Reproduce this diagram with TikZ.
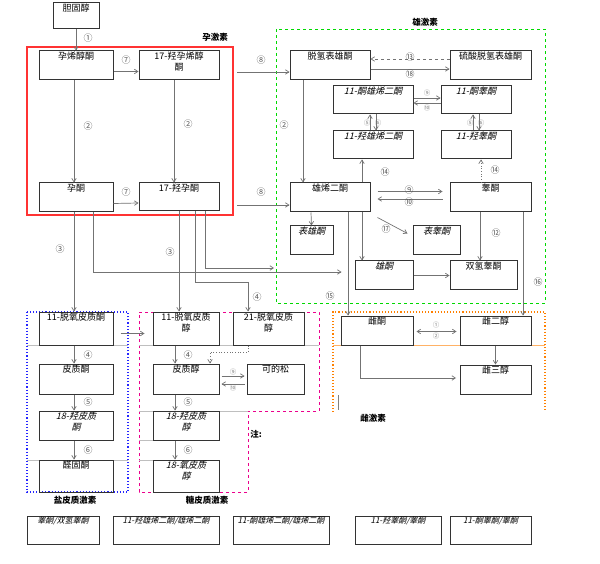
\documentclass[tikz,border=0pt]{standalone}
\usepackage{fontspec}
\setmainfont{Noto Sans CJK SC}[AutoFakeSlant=0.25]
\usetikzlibrary{arrows.meta}
\begin{document}
\begin{tikzpicture}[x=1pt,y=-1pt,
  box/.style={draw=black!80,line width=1pt,inner sep=0pt},
  lab/.style={font=\fontsize{9}{10.5}\selectfont,align=center},
  arr/.style={draw=black!55,line width=0.7pt,-{Straight Barb[length=3.5pt,width=4.5pt]}},
  num/.style={font=\fontsize{9}{9}\selectfont,text=black!65,inner sep=0pt},
  snum/.style={font=\fontsize{6.5}{6.5}\selectfont,text=black!50,inner sep=0pt},
  ttl/.style={font=\bfseries\fontsize{8.5}{8.5}\selectfont,inner sep=0pt}]
\useasboundingbox (0,0) rectangle (600,564);
\fill[white] (0,0) rectangle (600,564);
\newcommand\bx[6]{\node[box,minimum width={(#4-#2)*1pt},minimum height={(#5-#3)*1pt},
  label={[lab,anchor=north,inner sep=1.5pt]north:#6}] (#1) at ({(#2+#4)/2},{(#3+#5)/2}) {};}
\newcommand\sm{\fontsize{8}{9}\selectfont\itshape}
% frames
\node[draw=red!80,line width=1.1pt,minimum width=206pt,minimum height=168pt,inner sep=0pt] (red) at (130,131) {};
\draw[green!85!black,dashed,line width=0.8pt] (276,29) rectangle (545,303);
\draw[blue!85,dotted,line width=1.1pt] (27,312) rectangle (128,492);
\draw[magenta,dashed,line width=0.8pt] (139,312) -- (319,312) -- (319,411) -- (248,411) -- (248,492) -- (139,492) -- cycle;
\draw[orange,dotted,line width=1.1pt] (333,412) -- (333,312) -- (545,312) -- (545,412);
\draw[orange!60,line width=0.6pt] (333,345) -- (545,345);
\draw[black!25,line width=0.5pt] (27,345) -- (128,345) (27,460) -- (128,460)
  (139,345) -- (319,345) (139,411) -- (248,411) (139,440) -- (219,440) (139,460) -- (219,460);
\draw[black!50,line width=0.6pt] (338,395) -- (338,410);
% titles
\node[ttl] at (215,37) {孕激素};
\node[ttl] at (425,22) {雄激素};
\node[ttl] at (373,418) {雌激素};
\node[ttl] at (75,500) {盐皮质激素};
\node[ttl] at (207,500) {糖皮质激素};
\node[ttl] at (256,434) {注:};
% boxes
\bx{chol}{53}{3}{99}{29}{胆固醇}
\bx{preg}{39}{51}{113}{80}{孕烯醇酮}
\bx{ohpreg}{139}{51}{219}{80}{17-羟孕烯醇\\酮}
\bx{prog}{39}{183}{113}{212}{孕酮}
\bx{ohprog}{139}{183}{219}{211}{17-羟孕酮}
\bx{dhea}{290}{51}{370}{80}{脱氢表雄酮}
\bx{dheas}{450}{51}{531}{80}{硫酸脱氢表雄酮}
\bx{kad}{333}{86}{413}{114}{\itshape 11-酮雄烯二酮}
\bx{kt}{441}{86}{511}{114}{\itshape 11-酮睾酮}
\bx{had}{333}{131}{413}{159}{\itshape 11-羟雄烯二酮}
\bx{ht}{441}{131}{511}{159}{\itshape 11-羟睾酮}
\bx{ad}{290}{183}{370}{212}{雄烯二酮}
\bx{t}{450}{183}{531}{212}{睾酮}
\bx{epia}{290}{226}{333}{255}{\itshape 表雄酮}
\bx{epit}{413}{226}{460}{255}{\itshape 表睾酮}
\bx{an}{355}{261}{413}{290}{\itshape 雄酮}
\bx{dht}{450}{261}{517}{290}{双氢睾酮}
\bx{e1}{341}{316}{413}{345}{雌酮}
\bx{e2}{460}{316}{531}{345}{雌二醇}
\bx{e3}{460}{365}{531}{394}{雌三醇}
\bx{doc}{39}{312}{113}{345}{11-脱氧皮质酮}
\bx{b}{39}{364}{113}{394}{皮质酮}
\bx{ohb}{39}{411}{113}{440}{\itshape 18-羟皮质\\\itshape 酮}
\bx{aldo}{39}{460}{113}{492}{醛固酮}
\bx{s}{153}{312}{219}{345}{11-脱氧皮质\\醇}
\bx{dof}{233}{312}{304}{345}{21-脱氧皮质\\醇}
\bx{f}{153}{364}{219}{394}{皮质醇}
\bx{cort}{247}{364}{304}{394}{可的松}
\bx{ohf}{153}{411}{219}{440}{\itshape 18-羟皮质\\\itshape 醇}
\bx{oxof}{153}{460}{219}{492}{\itshape 18-氧皮质\\\itshape 醇}
\bx{r1}{27}{516}{99}{544}{\sm 睾酮/双氢睾酮}
\bx{r2}{113}{516}{219}{544}{\sm 11-羟雄烯二酮/雄烯二酮}
\bx{r3}{233}{516}{329}{544}{\sm 11-酮雄烯二酮/雄烯二酮}
\bx{r4}{355}{516}{441}{544}{\sm 11-羟睾酮/睾酮}
\bx{r5}{450}{516}{531}{544}{\sm 11-酮睾酮/睾酮}
% pregnane arrows
\draw[arr] (chol) -- (preg); \node[num] at (88,38) {①};
\draw[arr] ([yshift=-6pt]preg.east) -- ([yshift=-6pt]ohpreg.west); \node[num] at (126,60) {⑦};
\draw[arr] ([yshift=-6pt]prog.east) -- ([yshift=-6pt]ohprog.west); \node[num] at (126,192) {⑦};
\draw[arr] ([xshift=-2pt]preg.south) -- ([xshift=-2pt]prog.north); \node[num] at (88,126) {②};
\draw[arr] ([xshift=-5pt]ohpreg.south) -- ([xshift=-5pt]ohprog.north); \node[num] at (188,124) {②};
\coordinate (r8a) at (237,72); \coordinate (r8b) at (237,205);
\draw[arr] (r8a) -- (r8a -| dhea.west); \node[num] at (261,60) {⑧};
\draw[arr] (r8b) -- (r8b -| ad.west); \node[num] at (261,192) {⑧};
% androgen arrows
\draw[arr] ([xshift=-27pt]dhea.south) -- ([xshift=-27pt]ad.north); \node[num] at (284,125) {②};
\draw[arr,dashed] ([yshift=6.5pt]dheas.west) -- ([yshift=6.5pt]dhea.east); \node[num] at (410,57) {⑬};
\draw[arr] ([yshift=-3.5pt]dhea.east) -- ([yshift=-3.5pt]dheas.west); \node[num] at (410,74) {⑱};
\draw[arr] ([yshift=2pt]kad.east) -- ([yshift=2pt]kt.west); \node[snum] at (427,93) {⑨};
\draw[arr] ([yshift=-3pt]kt.west) -- ([yshift=-3pt]kad.east); \node[snum] at (427,108) {⑩};
\draw[arr] ([xshift=-3pt]had.north) -- ([xshift=-3pt]kad.south);
\draw[arr] ([xshift=3pt]kad.south) -- ([xshift=3pt]had.north);
\node[snum] at (367,123) {⑤}; \node[snum] at (378,123) {⑥};
\draw[arr] ([xshift=-3pt]ht.north) -- ([xshift=-3pt]kt.south);
\draw[arr] ([xshift=3pt]kt.south) -- ([xshift=3pt]ht.north);
\node[snum] at (470,123) {⑤}; \node[snum] at (481,123) {⑥};
\draw[arr] ([xshift=32pt]ad.north) -- ([xshift=-11pt]had.south); \node[num] at (385,172) {⑭};
\draw[arr,dotted] ([xshift=-9.5pt]t.north) -- ([xshift=5pt]ht.south); \node[num] at (495,170) {⑭};
\draw[arr] ([xshift=7pt,yshift=6pt]ad.east) -- ([xshift=-7pt,yshift=6pt]t.west); \node[num] at (409,190) {⑨};
\draw[arr] ([xshift=-7pt,yshift=-1.5pt]t.west) -- ([xshift=7pt,yshift=-1.5pt]ad.east); \node[num] at (409,202) {⑩};
\draw[arr] ([xshift=-19pt]ad.south) -- (epia.north); 
\draw[arr] ([xshift=7pt,yshift=-5pt]ad.south east) -- ([xshift=-5pt,yshift=-8pt]epit.north west); \node[num] at (386,229) {⑰};
\draw[arr] ([xshift=32pt]ad.south) -- ([xshift=-22pt]an.north);
\draw[arr] (an) -- (dht);
\draw[arr] ([xshift=-10.5pt]t.south) -- ([xshift=-3.5pt]dht.north); \node[num] at (496,233) {⑫};
\draw[arr] ([xshift=18pt]ad.south) -- ([xshift=-29pt]e1.north);
\draw[arr] ([xshift=32.5pt]t.south) -- ([xshift=27.5pt]e2.north);
\node[num] at (330,296) {⑮}; \node[num] at (538,282) {⑯};
% long lines from progesterones
\draw[arr] ([xshift=-2pt]prog.south) -- ([xshift=-2pt]doc.north); \node[num] at (60,249) {③};
\coordinate (p93) at (93,272);
\draw[arr] ([xshift=17pt]prog.south) |- ([xshift=-13pt]an.west |- p93);
\draw[arr] ([xshift=0pt]ohprog.south) -- ([xshift=-7pt]s.north); \node[num] at (170,252) {③};
\coordinate (q282) at (248,282);
\draw[arr] ([xshift=16pt]ohprog.south) |- (q282) -- ([xshift=-20.5pt]dof.north); \node[num] at (257,297) {④};
\coordinate (q268) at (274,268);
\draw[arr] ([xshift=26pt]ohprog.south) |- (q268);
% corticoids
\draw[arr] ([yshift=-5pt,xshift=7pt]doc.east) -- ([yshift=-5pt,xshift=-8pt]s.west);
\draw[arr] ([xshift=-2pt]doc.south) -- ([xshift=-2pt]b.north); \node[num] at (88,355) {④};
\draw[arr] ([xshift=-2pt]b.south) -- ([xshift=-2pt]ohb.north); \node[num] at (88,402) {⑤};
\draw[arr] ([xshift=-2pt]ohb.south) -- ([xshift=-2pt]aldo.north); \node[num] at (88,450) {⑥};
\draw[arr] ([xshift=-11pt]s.south) -- ([xshift=-11pt]f.north); \node[num] at (188,355) {④};
\draw[arr] ([xshift=-11pt]f.south) -- ([xshift=-11pt]ohf.north); \node[num] at (188,402) {⑤};
\draw[arr] ([xshift=-11pt]ohf.south) -- ([xshift=-11pt]oxof.north); \node[num] at (188,450) {⑥};
\coordinate (d352) at (248,352);
\draw[arr,dotted] ([xshift=-20.5pt]dof.south) |- ([xshift=24pt]f.north |- d352) -- ([xshift=24pt]f.north);
\draw[arr] ([xshift=2pt,yshift=3pt]f.east) -- ([xshift=-2pt,yshift=3pt]cort.west); \node[snum] at (233,372) {⑨};
\draw[arr] ([xshift=-2pt,yshift=-5pt]cort.west) -- ([xshift=2pt,yshift=-5pt]f.east); \node[snum] at (233,388) {⑩};
% estrogens
\draw[draw=black!55,line width=0.7pt,{Straight Barb[length=3.5pt,width=4.5pt]}-{Straight Barb[length=3.5pt,width=4.5pt]}] ([xshift=3pt,yshift=-1pt]e1.east) -- ([xshift=-3pt,yshift=-1pt]e2.west);
\node[snum] at (436,325) {①}; \node[snum] at (436,336) {②};
\draw[arr] (e2) -- (e3);
\coordinate (e378) at (456,378);
\draw[arr] ([xshift=-17pt]e1.south) |- (e378);
\end{tikzpicture}
\end{document}
